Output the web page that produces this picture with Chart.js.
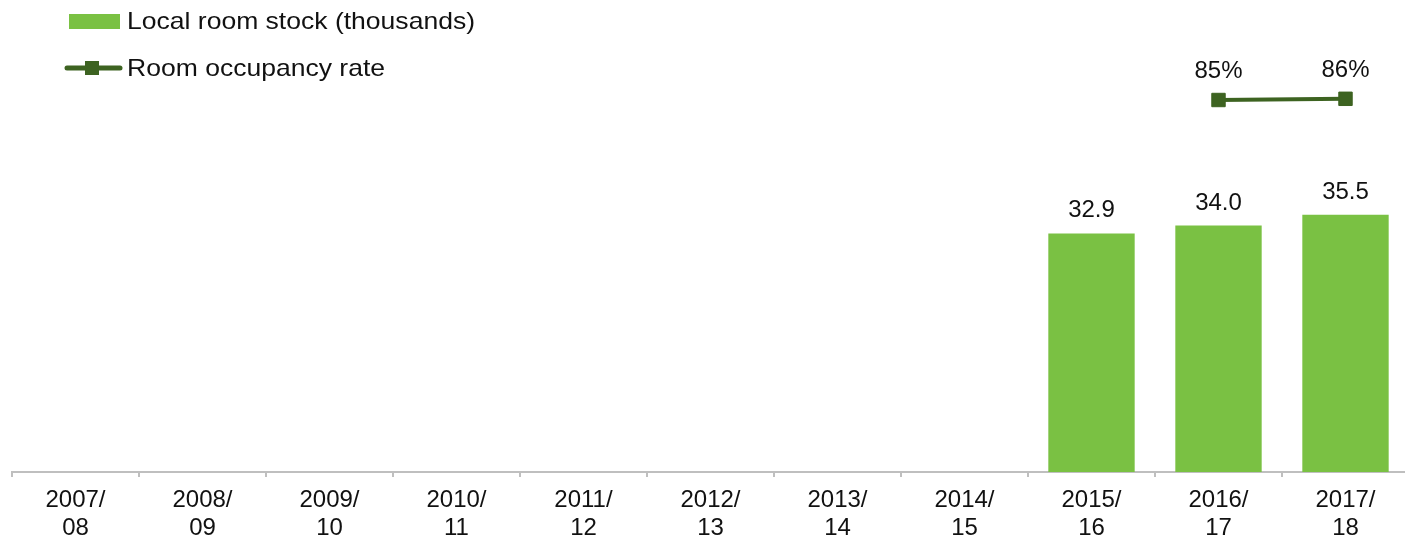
<!DOCTYPE html>
<html>
<head>
<meta charset="utf-8">
<script src="https://cdn.jsdelivr.net/npm/chart.js@4"></script>
<style>
html,body{margin:0;padding:0;background:#fff;overflow:hidden;}
#wrap{position:relative;width:1420px;height:556px;}
</style>
</head>
<body>
<div id="wrap"><canvas id="c" width="1420" height="556"></canvas></div>
<script>
const categories = [["2007/","08"],["2008/","09"],["2009/","10"],["2010/","11"],["2011/","12"],["2012/","13"],["2013/","14"],["2014/","15"],["2015/","16"],["2016/","17"],["2017/","18"]];
const roomStock = [null,null,null,null,null,null,null,null,32.9,34.0,35.5];
const occupancyRate = [null,null,null,null,null,null,null,null,null,85,86];
const stockLabel = "Local room stock (thousands)";
const rateLabel = "Room occupancy rate";

const BAR = "#7ac143";
const LINE = "#3d6321";
const FONT = "'Liberation Sans', Arial, sans-serif";

const labelPlugin = {
  id: 'labels',
  afterDatasetsDraw(chart) {
    const ctx = chart.ctx;
    ctx.save();
    ctx.fillStyle = "#111";
    ctx.textAlign = "center";
    ctx.textBaseline = "alphabetic";
    ctx.font = "24px " + FONT;
    chart.getDatasetMeta(0).data.forEach((el, i) => {
      const v = roomStock[i];
      if (v == null) return;
      ctx.fillText(v.toFixed(1), el.x, el.y - 16);
    });
    chart.getDatasetMeta(1).data.forEach((el, i) => {
      const v = occupancyRate[i];
      if (v == null) return;
      ctx.fillText(v + "%", el.x, el.y - 22);
    });
    // legend
    ctx.textAlign = "left";
    ctx.textBaseline = "middle";
    ctx.font = "24px " + FONT;
    ctx.fillStyle = BAR;
    ctx.fillRect(69, 14, 51, 15);
    ctx.strokeStyle = LINE;
    ctx.lineWidth = 5;
    ctx.lineCap = "round";
    ctx.beginPath(); ctx.moveTo(67, 68); ctx.lineTo(120, 68); ctx.stroke();
    ctx.fillStyle = LINE;
    ctx.fillRect(85, 61, 14, 14);
    const t0 = chart.data.datasets[0].label;
    const sx = 348 / ctx.measureText(t0).width;
    ctx.fillStyle = "#111";
    ctx.save(); ctx.translate(127, 22); ctx.scale(sx, 1); ctx.fillText(t0, 0, 0); ctx.restore();
    ctx.save(); ctx.translate(127, 69); ctx.scale(sx, 1); ctx.fillText(chart.data.datasets[1].label, 0, 0); ctx.restore();
    ctx.restore();
  }
};

new Chart(document.getElementById('c'), {
  data: {
    labels: categories,
    datasets: [
      {
        type: 'bar', label: stockLabel, data: roomStock, yAxisID: 'y',
        backgroundColor: BAR, barPercentage: 0.68, categoryPercentage: 1, order: 2
      },
      {
        type: 'line', label: rateLabel, data: occupancyRate, yAxisID: 'y2',
        borderColor: LINE, borderWidth: 4, pointStyle: 'rect', pointRadius: 9.5,
        pointBackgroundColor: LINE, pointBorderColor: LINE, pointBorderWidth: 1,
        spanGaps: false, order: 1
      }
    ]
  },
  options: {
    responsive: false,
    animation: false,
    layout: { padding: { left: 12, right: 11, top: 37, bottom: 0 } },
    plugins: { legend: { display: false }, tooltip: { enabled: false } },
    scales: {
      x: {
        offset: true,
        grid: { offset: true, drawOnChartArea: false, drawTicks: true, tickLength: 5, color: '#bfbfbf', lineWidth: 2 },
        border: { display: true, color: '#bfbfbf', width: 2 },
        ticks: { color: '#111', font: { size: 24, family: FONT, lineHeight: 1.15 }, padding: 10, maxRotation: 0, autoSkip: false },
        afterFit(scale) { scale.height = 84; }
      },
      y: { display: false, min: 0, max: 60 },
      y2: { display: false, min: -225, max: 137.5 }
    }
  },
  plugins: [labelPlugin]
});
</script>
</body>
</html>
